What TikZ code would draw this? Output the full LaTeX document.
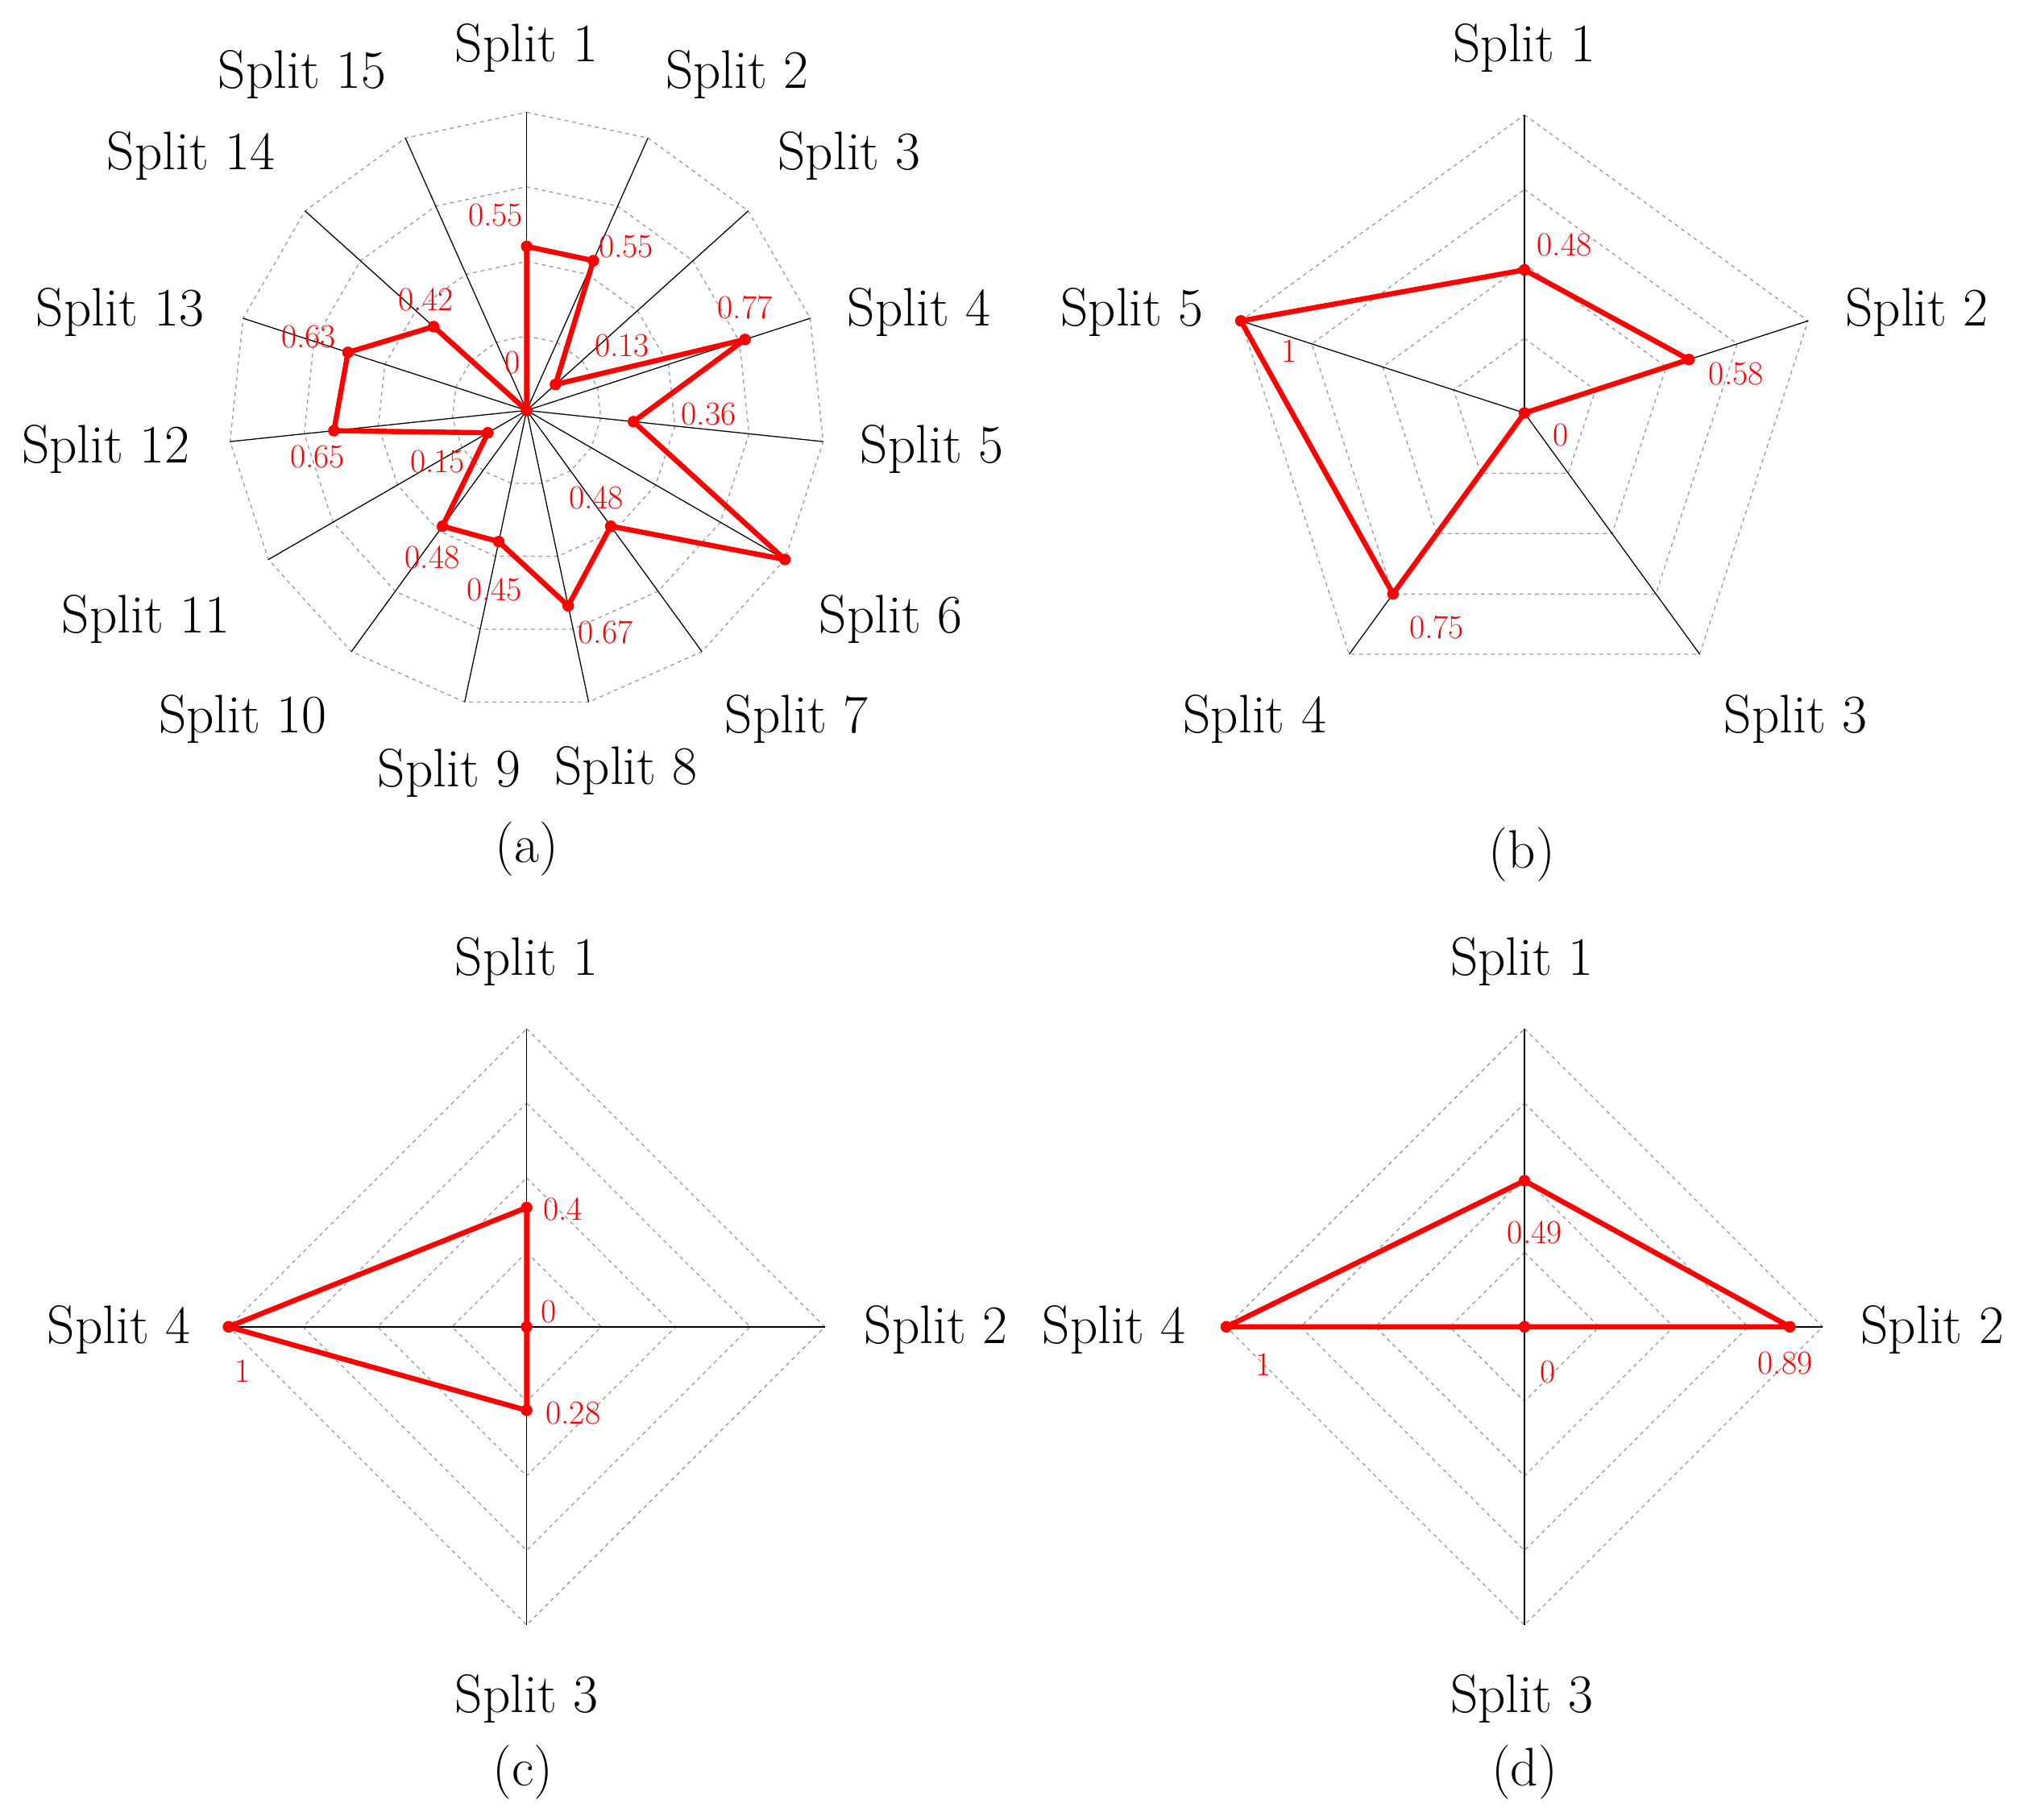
\documentclass[tikz,border=0pt]{standalone}
\begin{document}
\begin{tikzpicture}[x=1pt,y=1pt,
  grid/.style={gray!80,dashed,line width=0.8pt},
  axis/.style={black,line width=0.8pt},
  data/.style={red,line width=4pt,line join=round},
  dot/.style={circle,fill=red,inner sep=0pt,minimum size=9pt},
  val/.style={red,font=\fontsize{26}{28}\selectfont,inner sep=0pt},
  lab/.style={font=\fontsize{42}{48}\selectfont,inner sep=0pt}]
\useasboundingbox (0,0) rectangle (1568,1410);
\newcommand\myradar[5]{% cx, cy, n, n-1, values
 \begin{scope}[shift={(#1,{1410-#2})}]
 \pgfmathsetmacro\stp{360/#3}
 \foreach \l in {0.25,0.5,0.75,1}{\draw[grid] (90:{\l*231}) \foreach \i in {1,...,#4}{-- ({90-\i*\stp}:{\l*231})} -- cycle;}
 \foreach \i in {0,...,#4} \draw[axis] (0,0) -- ({90-\i*\stp}:231);
 \foreach \v [count=\i from 0] in {#5} \coordinate (p\i) at ({90-\i*\stp}:{\v*231});
 \draw[data] (p0) \foreach \i in {1,...,#4}{-- (p\i)} -- cycle;
 \foreach \i in {0,...,#4} \node[dot] at (p\i) {};
 \end{scope}}
\newcommand\T[4][lab]{\node[#1] at (#2,{1410-#3}) {#4};}
% (a)
\myradar{408}{318}{15}{14}{0.55,0.55,0.13,0.77,0.36,1,0.48,0.67,0.45,0.48,0.15,0.65,0.63,0.42,0}
\T{408}{37}{Split 1}\T{571}{58}{Split 2}\T{658}{121}{Split 3}\T{712}{242}{Split 4}
\T{722}{348}{Split 5}\T{690}{480}{Split 6}\T{617}{557}{Split 7}\T{485}{597}{Split 8}
\T{348}{599}{Split 9}\T{188}{557}{Split 10}\T{113}{480}{Split 11}\T{82}{348}{Split 12}
\T{93}{242}{Split 13}\T{148}{121}{Split 14}\T{234}{58}{Split 15}\T{408}{658}{(a)}
\T[val]{384}{167}{0.55}\T[val]{485}{191}{0.55}\T[val]{482}{268}{0.13}\T[val]{577}{238}{0.77}
\T[val]{549}{321}{0.36}\T[val]{462}{386}{0.48}\T[val]{469}{490}{0.67}\T[val]{383}{457}{0.45}
\T[val]{335}{432}{0.48}\T[val]{339}{358}{0.15}\T[val]{246}{354}{0.65}\T[val]{239}{261}{0.63}
\T[val]{330}{232}{0.42}\T[val]{397}{281}{0}
% (b)
\myradar{1181}{320}{5}{4}{0.48,0.58,0,0.75,1}
\T{1181}{37}{Split 1}\T{1485}{242}{Split 2}\T{1391}{557}{Split 3}\T{972}{557}{Split 4}
\T{877}{242}{Split 5}\T{1179}{662}{(b)}
\T[val]{1212}{190}{0.48}\T[val]{1345}{290}{0.58}\T[val]{1209}{337}{0}\T[val]{1113}{486}{0.75}\T[val]{999}{272}{1}
% (c)
\myradar{408}{1028}{4}{3}{0.4,0,0.28,1}
\T{408}{745}{Split 1}\T{725}{1030}{Split 2}\T{408}{1316}{Split 3}\T{92}{1030}{Split 4}\T{405}{1373}{(c)}
\T[val]{436}{937}{0.4}\T[val]{425}{1016}{0}\T[val]{444}{1095}{0.28}\T[val]{188}{1062}{1}
% (d)
\myradar{1181}{1028}{4}{3}{0.49,0.89,0,1}
\T{1179}{745}{Split 1}\T{1497}{1030}{Split 2}\T{1179}{1316}{Split 3}\T{863}{1030}{Split 4}\T{1181}{1373}{(d)}
\T[val]{1189}{955}{0.49}\T[val]{1199}{1063}{0}\T[val]{1383}{1056}{0.89}\T[val]{979}{1057}{1}
\end{tikzpicture}
\end{document}
